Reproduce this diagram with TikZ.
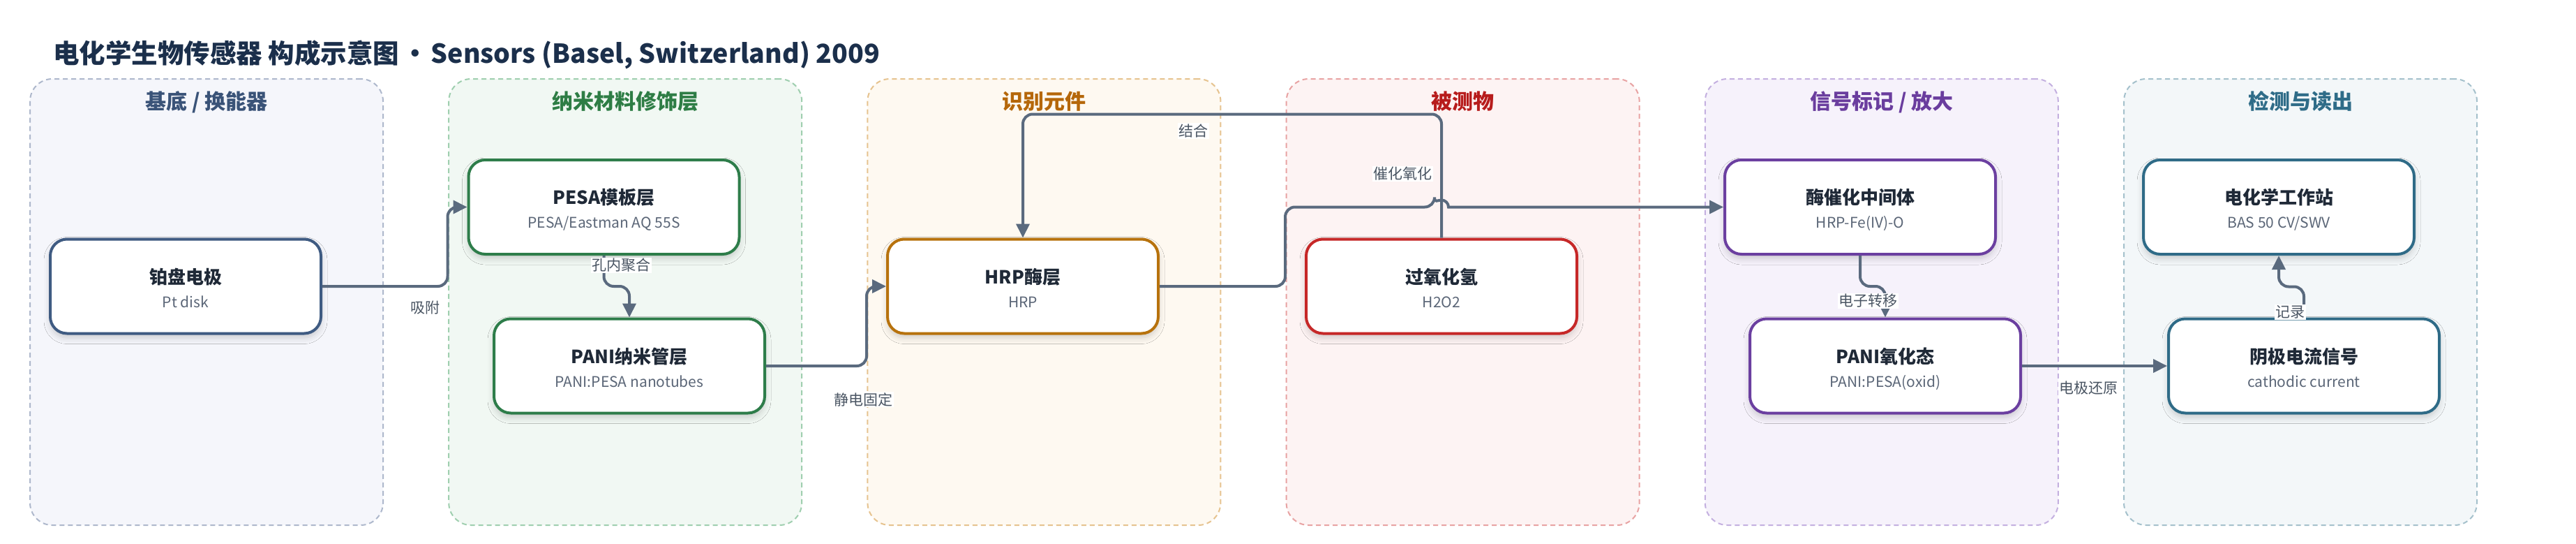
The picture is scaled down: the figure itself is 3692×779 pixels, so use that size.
\documentclass[tikz,border=0pt]{standalone}
\usepackage{fontspec}
\setmainfont{Noto Sans CJK SC}
\usetikzlibrary{arrows.meta,calc,shadows.blur}
\definecolor{edgec}{HTML}{5A6A7E}
\definecolor{maint}{HTML}{1B2F4B}
\definecolor{ttlc}{HTML}{1F2937}
\definecolor{subc}{HTML}{5B6677}
\definecolor{lblc}{HTML}{4A5563}
\definecolor{pfA}{HTML}{F5F6FB}\definecolor{pbA}{HTML}{AEB8CC}\definecolor{ptA}{HTML}{3A5378}\definecolor{nA}{HTML}{3F5B82}
\definecolor{pfB}{HTML}{F1F8F3}\definecolor{pbB}{HTML}{9FCFAF}\definecolor{ptB}{HTML}{2E7D45}\definecolor{nB}{HTML}{2E7D4A}
\definecolor{pfC}{HTML}{FEF9F1}\definecolor{pbC}{HTML}{E6C38F}\definecolor{ptC}{HTML}{B5670A}\definecolor{nC}{HTML}{B7720D}
\definecolor{pfD}{HTML}{FDF3F3}\definecolor{pbD}{HTML}{E8A3A3}\definecolor{ptD}{HTML}{B71C1C}\definecolor{nD}{HTML}{C62828}
\definecolor{pfE}{HTML}{F6F2FB}\definecolor{pbE}{HTML}{C4B0E0}\definecolor{ptE}{HTML}{6A3D9E}\definecolor{nE}{HTML}{6B3FA0}
\definecolor{pfF}{HTML}{F3F7F9}\definecolor{pbF}{HTML}{A5C1CC}\definecolor{ptF}{HTML}{2F6C88}\definecolor{nF}{HTML}{2F6B87}
\tikzset{
  panel/.style={draw=pb#1, fill=pf#1, dash pattern=on 7pt off 5pt, line width=2pt,
    rounded corners=32pt, minimum width=506pt, minimum height=639pt, inner sep=0pt},
  ptitle/.style={text=pt#1, font=\fontsize{30pt}{34pt}\selectfont\bfseries, anchor=base, inner sep=0pt},
  box/.style={draw=n#1, fill=white, line width=4pt, rounded corners=24pt,
    minimum width=388pt, minimum height=135pt, inner sep=0pt,
    blur shadow={shadow xshift=0pt, shadow yshift=-6pt, shadow blur radius=9pt, shadow opacity=18}},
  ttl/.style={text=ttlc, font=\fontsize{26pt}{30pt}\selectfont\bfseries, anchor=base, inner sep=0pt},
  sub/.style={text=subc, font=\fontsize{21pt}{25pt}\selectfont, anchor=base, inner sep=0pt},
  edge/.style={draw=edgec, line width=4pt, rounded corners=14pt, -{Triangle[length=20pt,width=19pt]}},
  lbl/.style={fill=white, text=lblc, font=\fontsize{21pt}{25pt}\selectfont, inner sep=1.5pt},
}
\newcommand\mkbox[6]{%
  \node[box=#4] (#1) at (#2,#3) {};
  \node[ttl] (#1-t) at (#2,#3-4) {#5};
  \node[sub] (#1-s) at (#2,#3+30) {#6};
}
\begin{document}
\begin{tikzpicture}[x=1pt,y=-1pt]
\useasboundingbox (0,0) rectangle (3692,779);
\fill[white] (0,0) rectangle (3692,779);
\node[anchor=base west, inner sep=0pt, text=maint, font=\fontsize{37.5pt}{40pt}\selectfont\bfseries] (title) at (76,90)
  {电化学生物传感器 构成示意图\hspace{4pt}·\hspace{4pt}Sensors (Basel, Switzerland) 2009};
% panels
\node[panel=A] (p1) at (296,432.5) {};
\node[panel=B] (p2) at (896.2,432.5) {};
\node[panel=C] (p3) at (1496.4,432.5) {};
\node[panel=D] (p4) at (2096.6,432.5) {};
\node[panel=E] (p5) at (2696.8,432.5) {};
\node[panel=F] (p6) at (3297,432.5) {};
\node[ptitle=A] (p1t) at (296,156) {基底 / 换能器};
\node[ptitle=B] (p2t) at (896.2,156) {纳米材料修饰层};
\node[ptitle=C] (p3t) at (1496.4,156) {识别元件};
\node[ptitle=D] (p4t) at (2096.6,156) {被测物};
\node[ptitle=E] (p5t) at (2696.8,156) {信号标记 / 放大};
\node[ptitle=F] (p6t) at (3297,156) {检测与读出};
% boxes
\mkbox{pt}{266}{410}{A}{铂盘电极}{Pt disk}
\mkbox{pesa}{865.5}{296.5}{B}{PESA模板层}{PESA/Eastman AQ 55S}
\mkbox{pani}{902}{524}{B}{PANI纳米管层}{PANI:PESA nanotubes}
\mkbox{hrp}{1466}{410}{C}{HRP酶层}{HRP}
\mkbox{hh}{2066}{410}{D}{过氧化氢}{H2O2}
\mkbox{enz}{2666}{296.5}{E}{酶催化中间体}{HRP-Fe(IV)-O}
\mkbox{pox}{2702}{524}{E}{PANI氧化态}{PANI:PESA(oxid)}
\mkbox{ws}{3266}{296.5}{F}{电化学工作站}{BAS 50 CV/SWV}
\mkbox{cath}{3302}{524}{F}{阴极电流信号}{cathodic current}
% edges
\draw[edge] (pt.east) -| ($(pesa.west)+(-28,0)$) -- (pesa.west);
\draw[edge] (pesa.south) -- ++(0,44) -| (pani.north);
\draw[edge] (pani.east) -| ($(hrp.west)+(-28,0)$) -- (hrp.west);
\draw[edge] (hh.north) -- ++(0,-177) -| (hrp.north);
\draw[edge] (hrp.east) -- ++(180,0) |- ($(hh.north|-enz.west)+(-10,0)$) [sharp corners] arc[start angle=180, end angle=360, radius=10] -- (enz.west);
\draw[edge] (enz.south) -- ++(0,44) -| (pox.north);
\draw[edge] (pox.east) -- (cath.west);
\draw[edge] (cath.north) -- ++(0,-44) -| (ws.south);
% labels
\node[lbl] (l1) at (609,441) {吸附};
\node[lbl] (l2) at (890,380) {孔内聚合};
\node[lbl] (l3) at (1237,572) {静电固定};
\node[lbl] (l4) at (1710,187.5) {结合};
\node[lbl] (l5) at (2010,249) {催化氧化};
\node[lbl] (l6) at (2677,431) {电子转移};
\node[lbl] (l7) at (2993,556) {电极还原};
\node[lbl] (l8) at (3282,447) {记录};
\end{tikzpicture}
\end{document}
